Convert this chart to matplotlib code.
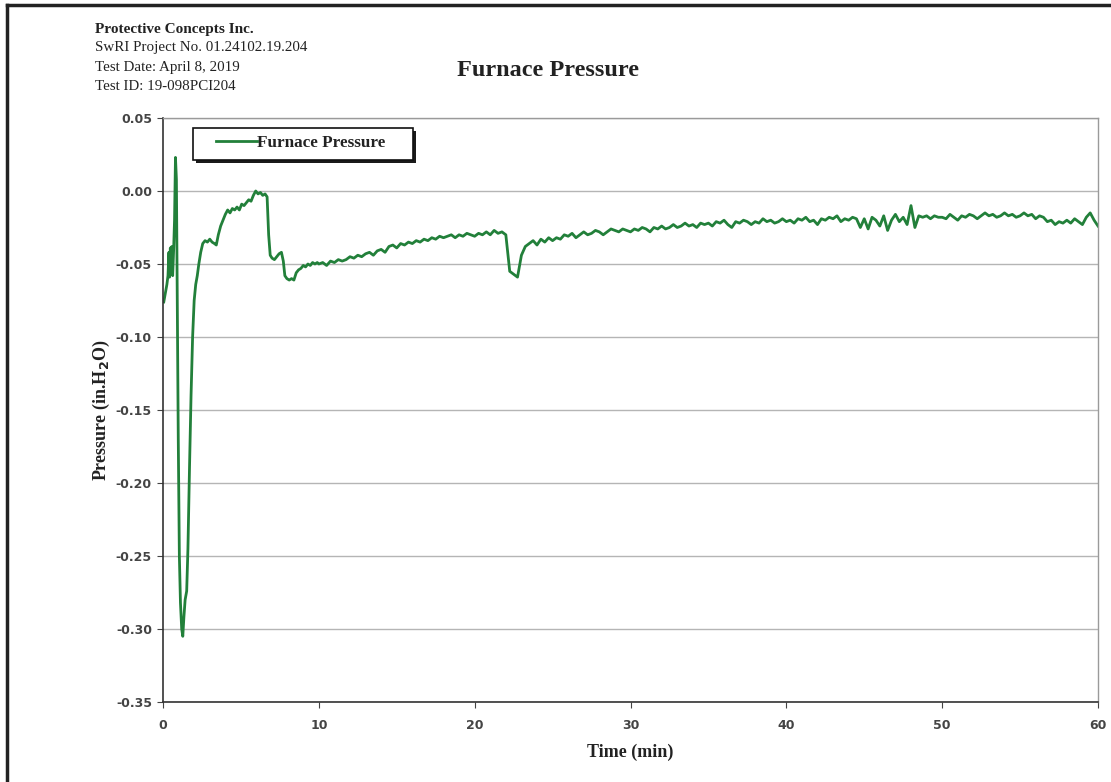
import matplotlib
matplotlib.use("Agg")
import matplotlib.pyplot as plt
from matplotlib.lines import Line2D
from matplotlib.patches import Rectangle

# ---------------- data ----------------
header_lines = ["Protective Concepts Inc.", "SwRI Project No. 01.24102.19.204",
                "Test Date: April 8, 2019", "Test ID: 19-098PCI204"]
chart_title = "Furnace Pressure"
series_name = "Furnace Pressure"
x_label = "Time (min)"
y_label = "Pressure (in.H$_\\mathbf{2}$O)"
x_ticks = [0, 10, 20, 30, 40, 50, 60]
y_ticks = [0.05, 0.00, -0.05, -0.10, -0.15, -0.20, -0.25, -0.30, -0.35]

# first 10 minutes (irregular readings)
time_early = [0.05, 0.15, 0.25, 0.32, 0.38, 0.42, 0.47, 0.52, 0.57, 0.62, 0.68, 0.74,
              0.80, 0.86, 0.92, 0.98, 1.05, 1.12, 1.20, 1.27, 1.34, 1.42, 1.52, 1.60,
              1.70, 1.80, 1.90, 2.00, 2.10, 2.20, 2.30, 2.42, 2.55, 2.70, 2.85, 3.00,
              3.15, 3.30, 3.42, 3.55, 3.70, 3.85, 4.00, 4.15, 4.30, 4.45, 4.60, 4.75,
              4.90, 5.05, 5.20, 5.35, 5.50, 5.65, 5.80, 5.95, 6.10, 6.25, 6.40, 6.55,
              6.68, 6.78, 6.88, 7.00, 7.15, 7.30, 7.45, 7.60, 7.72, 7.82, 7.95, 8.10,
              8.25, 8.40, 8.55, 8.70, 8.85, 9.00, 9.15, 9.30, 9.45, 9.60, 9.75, 9.90]
pressure_early = [-0.076, -0.070, -0.064, -0.058, -0.042, -0.059, -0.039, -0.057, -0.038,
                  -0.058, -0.041, -0.020, 0.023, 0.008, -0.080, -0.170, -0.250, -0.282,
                  -0.300, -0.305, -0.292, -0.280, -0.274, -0.245, -0.190, -0.140, -0.100,
                  -0.075, -0.064, -0.058, -0.050, -0.042, -0.036, -0.034, -0.035, -0.033,
                  -0.035, -0.036, -0.037, -0.030, -0.024, -0.020, -0.016, -0.013, -0.015,
                  -0.012, -0.013, -0.011, -0.013, -0.009, -0.010, -0.008, -0.006, -0.007,
                  -0.003, 0.000, -0.002, -0.001, -0.003, -0.002, -0.004, -0.030, -0.044,
                  -0.046, -0.047, -0.045, -0.043, -0.042, -0.048, -0.058, -0.060, -0.061,
                  -0.060, -0.061, -0.056, -0.054, -0.053, -0.051, -0.052, -0.050, -0.051,
                  -0.049, -0.050, -0.049]

# 10 to 60 minutes, one reading every 0.25 min
late_start_min = 10.0
sample_interval_min = 0.25
pressure_late = [
    -0.050, -0.049, -0.051, -0.048, -0.049, -0.047, -0.048, -0.047, -0.045, -0.046,
    -0.044, -0.045, -0.043, -0.042, -0.044, -0.041, -0.040, -0.042, -0.038, -0.037,
    -0.039, -0.036, -0.037, -0.035, -0.036, -0.034, -0.035, -0.033, -0.034, -0.032,
    -0.033, -0.031, -0.032, -0.031, -0.030, -0.032, -0.030, -0.031, -0.029, -0.030,
    -0.031, -0.029, -0.030, -0.028, -0.030, -0.027, -0.029, -0.028, -0.030, -0.055,
    -0.057, -0.059, -0.044, -0.038, -0.036, -0.034, -0.037, -0.033, -0.035, -0.032,
    -0.034, -0.032, -0.033, -0.030, -0.031, -0.029, -0.032, -0.030, -0.028, -0.030,
    -0.029, -0.027, -0.028, -0.030, -0.028, -0.026, -0.027, -0.028, -0.026, -0.027,
    -0.028, -0.026, -0.027, -0.025, -0.026, -0.028, -0.025, -0.026, -0.024, -0.026,
    -0.025, -0.023, -0.025, -0.024, -0.022, -0.024, -0.023, -0.025, -0.022, -0.023,
    -0.022, -0.024, -0.021, -0.022, -0.020, -0.023, -0.025, -0.021, -0.022, -0.020,
    -0.021, -0.023, -0.021, -0.022, -0.019, -0.021, -0.020, -0.022, -0.021, -0.019,
    -0.021, -0.020, -0.022, -0.019, -0.020, -0.018, -0.021, -0.020, -0.023, -0.019,
    -0.020, -0.018, -0.019, -0.017, -0.021, -0.019, -0.020, -0.018, -0.019, -0.025,
    -0.019, -0.026, -0.018, -0.020, -0.024, -0.017, -0.027, -0.020, -0.016, -0.021,
    -0.018, -0.023, -0.010, -0.025, -0.017, -0.018, -0.017, -0.019, -0.017, -0.018,
    -0.018, -0.019, -0.016, -0.018, -0.020, -0.017, -0.018, -0.016, -0.017, -0.019,
    -0.017, -0.015, -0.017, -0.016, -0.018, -0.017, -0.015, -0.017, -0.016, -0.018,
    -0.017, -0.015, -0.017, -0.016, -0.019, -0.017, -0.018, -0.021, -0.020, -0.023,
    -0.021, -0.022, -0.020, -0.022, -0.019, -0.021, -0.023, -0.018, -0.015, -0.020,
    -0.024]

time_late = [late_start_min + sample_interval_min * i for i in range(len(pressure_late))]
time_all = time_early + time_late
pressure_all = pressure_early + pressure_late

# ---------------- figure ----------------
W, H = 1111, 782
plt.rcParams['font.family'] = ['Liberation Serif', 'DejaVu Serif']
fig = plt.figure(figsize=(W / 100, H / 100), dpi=100)
fig.patch.set_facecolor('white')

def fx(px):
    return px / W

def fy(py):
    return 1 - py / H

ax = fig.add_axes([fx(163), fy(702), fx(1098) - fx(163), fy(118) - fy(702)])
line_color = '#22803a'
ax.plot(time_all, pressure_all, color=line_color, lw=2.0, label=series_name,
        solid_joinstyle='round')

ax.set_xlim(0, 60)
ax.set_ylim(-0.35, 0.05)
ax.set_xticks(x_ticks)
ax.set_yticks(y_ticks)
ax.set_xticklabels([str(v) for v in x_ticks])
ax.set_yticklabels([f"{v:.2f}" for v in y_ticks])
ax.yaxis.grid(True, color='#b5b5b5', lw=1.0)
ax.set_axisbelow(True)
ax.tick_params(axis='both', labelsize=9, colors='#444444', length=4, width=0.8)
for lab in ax.get_xticklabels() + ax.get_yticklabels():
    lab.set_fontfamily('DejaVu Sans')
    lab.set_fontweight('bold')
ax.tick_params(axis='x', pad=8)
ax.tick_params(axis='y', pad=4)

for s in ['left', 'bottom']:
    ax.spines[s].set_color('#333333')
    ax.spines[s].set_linewidth(1.2)
for s in ['top', 'right']:
    ax.spines[s].set_color('#9a9a9a')
    ax.spines[s].set_linewidth(1.0)

ax.set_xlabel(x_label, fontsize=13, fontweight='bold', color='#222222', labelpad=9)
ax.set_ylabel(y_label, fontsize=13, fontweight='bold', color='#222222', labelpad=3)

# legend (frame drawn by hand to match the boxed legend with a drop shadow)
leg = ax.legend(loc='upper left', bbox_to_anchor=((216 - 163) / 935, 1 - (135 - 118) / 584),
                frameon=False, fontsize=12.3, handlelength=2.4, handletextpad=0.0,
                borderpad=0, borderaxespad=0)
for t in leg.get_texts():
    t.set_fontweight('bold')
    t.set_color('#222222')
leg.set_zorder(6)
ax.add_patch(Rectangle((fx(196), fy(163)), fx(220), 32 / H, facecolor='#1a1a1a',
                       edgecolor='none', zorder=4, transform=fig.transFigure,
                       clip_on=False))
ax.add_patch(Rectangle((fx(193), fy(160)), fx(220), 32 / H, facecolor='white',
                       edgecolor='#111111', lw=1.2, zorder=4.5,
                       transform=fig.transFigure, clip_on=False))

# header texts
fig.text(fx(95), fy(29), header_lines[0], fontsize=11, fontweight='bold',
         color='#222222', va='center', ha='left')
for i, txt in enumerate(header_lines[1:]):
    fig.text(fx(95), fy(48 + 19 * i), txt, fontsize=10.8, color='#222222',
             va='center', ha='left')
fig.text(fx(548), fy(70), chart_title, fontsize=17.5, fontweight='bold',
         color='#222222', va='center', ha='center')

# page frame lines (scan border)
fig.add_artist(Line2D([fx(7), fx(7)], [0, fy(5)], color='#222222', lw=2.5))
fig.add_artist(Line2D([fx(7), 1], [fy(5), fy(5)], color='#222222', lw=2.5))

fig.savefig('out.png', dpi=100, facecolor='white')
